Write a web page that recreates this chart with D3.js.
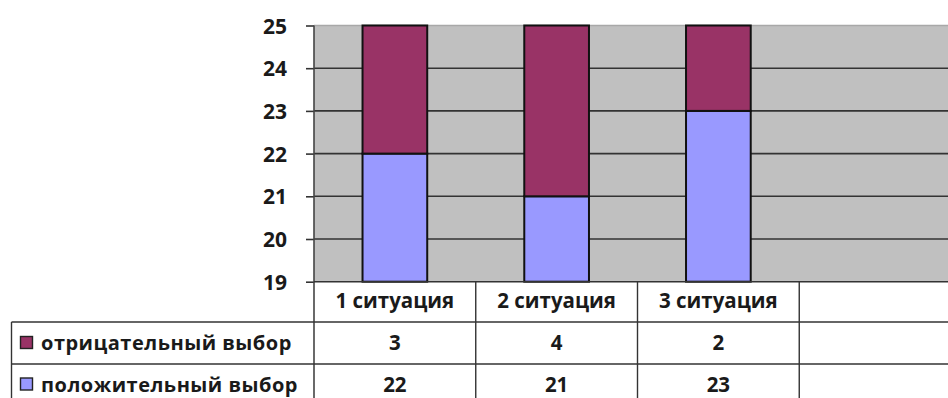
<!DOCTYPE html>
<html>
<head>
<meta charset="utf-8">
<script src="https://cdn.jsdelivr.net/npm/d3@7"></script>
<style>
  html, body { margin: 0; padding: 0; background: #fff; }
  svg { display: block; }
  text { font-family: "Open Sans", sans-serif; font-weight: 700; fill: #1a1a1a; }
</style>
</head>
<body>
<svg id="chart" width="948" height="398"></svg>
<script>
// Stacked column chart with an attached data table
const categories = ["1 ситуация", "2 ситуация", "3 ситуация", ""];
const seriesNames = ["положительный выбор", "отрицательный выбор"];
const positive = [22, 21, 23];
const negative = [3, 4, 2];
const yTicks = [19, 20, 21, 22, 23, 24, 25];

const colors = { "положительный выбор": "#9999ff", "отрицательный выбор": "#993366" };

const svg = d3.select("#chart");
const W = 948;

const plot = { left: 314, right: 961, top: 25.5, bottom: 281.7 };

const x = d3.scaleBand().domain(categories).range([plot.left, plot.right]).padding(0);
const y = d3.scaleLinear().domain([19, 25]).range([plot.bottom, plot.top]).clamp(true);

// plot background
svg.append("rect")
  .attr("x", plot.left).attr("y", plot.top)
  .attr("width", plot.right - plot.left).attr("height", plot.bottom - plot.top)
  .attr("fill", "#c0c0c0");

// gridlines and ticks
const yAxis = d3.axisLeft(y).tickValues(yTicks).tickSize(8).tickPadding(0).tickFormat(d3.format("d"));
const gAxis = svg.append("g").attr("transform", `translate(${plot.left},0)`).call(yAxis);
gAxis.select(".domain").remove();
gAxis.selectAll(".tick line").attr("stroke", "#333").attr("stroke-width", 1.6);
gAxis.selectAll(".tick text")
  .attr("x", -27)
  .attr("dy", "0.36em")
  .style("font-size", "21px")
  .style("font-family", "'Open Sans', sans-serif")
  .style("font-weight", 700)
  .attr("fill", "#1a1a1a");

svg.append("g").selectAll("line")
  .data(yTicks.filter(d => d > 19))
  .join("line")
  .attr("x1", plot.left).attr("x2", W)
  .attr("y1", d => y(d)).attr("y2", d => y(d))
  .attr("stroke", d => d === 25 ? "#a8a8a8" : "#333")
  .attr("stroke-width", 1.6);

// stacked bars
const rows = positive.map((p, i) => ({
  cat: categories[i],
  "положительный выбор": p,
  "отрицательный выбор": negative[i]
}));
const stack = d3.stack().keys(seriesNames)(rows);
const barW = x.bandwidth() * 0.4;

svg.append("g").selectAll("g")
  .data(stack)
  .join("g")
  .attr("fill", d => colors[d.key])
  .selectAll("rect")
  .data(d => d)
  .join("rect")
  .attr("x", d => x(d.data.cat) + (x.bandwidth() - barW) / 2)
  .attr("y", d => y(d[1]))
  .attr("width", barW)
  .attr("height", d => y(d[0]) - y(d[1]))
  .attr("stroke", "#111")
  .attr("stroke-width", 2);

// value axis line
svg.append("line")
  .attr("x1", plot.left).attr("x2", plot.left)
  .attr("y1", plot.top).attr("y2", 398)
  .attr("stroke", "#444").attr("stroke-width", 1.6);

// data table
const table = { headerBottom: 322, row1Bottom: 364, left: 11.5 };
const tbl = svg.append("g").attr("stroke", "#333").attr("stroke-width", 1.4);

tbl.append("line").attr("x1", plot.left).attr("x2", W).attr("y1", plot.bottom).attr("y2", plot.bottom);
tbl.append("line").attr("x1", table.left).attr("x2", W).attr("y1", table.headerBottom).attr("y2", table.headerBottom);
tbl.append("line").attr("x1", table.left).attr("x2", W).attr("y1", table.row1Bottom).attr("y2", table.row1Bottom);
tbl.append("line").attr("x1", table.left).attr("x2", table.left).attr("y1", table.headerBottom).attr("y2", 398);

tbl.selectAll(".col")
  .data(categories.slice(1))
  .join("line")
  .attr("x1", d => x(d)).attr("x2", d => x(d))
  .attr("y1", plot.bottom).attr("y2", 398);

// header labels
svg.append("g").selectAll("text")
  .data(categories.filter(c => c))
  .join("text")
  .attr("x", d => x(d) + x.bandwidth() / 2)
  .attr("y", 301)
  .attr("dy", "0.36em")
  .attr("text-anchor", "middle")
  .style("font-size", "20.5px")
  .text(d => d);

// table rows: negative on top, positive below
const tableRows = [
  { name: "отрицательный выбор", values: negative, cy: 343 },
  { name: "положительный выбор", values: positive, cy: 384.5 }
];

tableRows.forEach(r => {
  svg.append("rect")
    .attr("x", 20.5).attr("y", r.cy - 6.5)
    .attr("width", 12).attr("height", 12)
    .attr("fill", colors[r.name])
    .attr("stroke", "#222").attr("stroke-width", 1.4);
  svg.append("text")
    .attr("x", 41).attr("y", r.cy)
    .attr("dy", "0.36em")
    .style("font-size", "20px")
    .style("letter-spacing", "0.5px")
    .text(r.name);
  svg.append("g").selectAll("text")
    .data(r.values)
    .join("text")
    .attr("x", (d, i) => x(categories[i]) + x.bandwidth() / 2)
    .attr("y", r.cy)
    .attr("dy", "0.36em")
    .attr("text-anchor", "middle")
    .style("font-size", "20.5px")
    .text(d => d);
});
</script>
</body>
</html>
